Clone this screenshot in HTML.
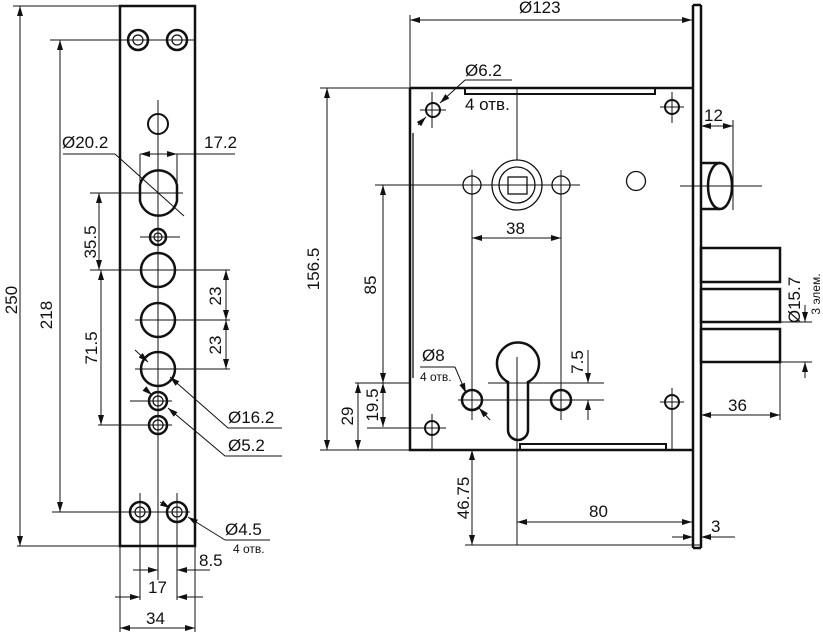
<!DOCTYPE html>
<html><head><meta charset="utf-8"><style>
html,body{margin:0;padding:0;background:#fff}
svg{display:block}
text{font-family:"Liberation Sans",sans-serif;fill:#111}
</style></head><body>
<svg width="823" height="635" viewBox="0 0 823 635" xmlns="http://www.w3.org/2000/svg">
<defs>
<marker id="a" viewBox="0 0 10 6" refX="10" refY="3" markerWidth="10" markerHeight="6" orient="auto-start-reverse" markerUnits="userSpaceOnUse"><path d="M0,0 L10,3 L0,6 z" fill="#111"/></marker>
</defs>
<g stroke="#111" fill="none">
<rect x="120" y="6" width="75" height="540" stroke-width="2.5"/>
<g stroke-width="1">
<line x1="13" y1="6" x2="120" y2="6"/>
<line x1="50" y1="40" x2="195" y2="40"/>
<line x1="158" y1="100" x2="158" y2="580"/>
<line x1="63" y1="154" x2="115" y2="154"/>
<line x1="115" y1="154" x2="184" y2="216"/>
<line x1="90" y1="193" x2="183" y2="193"/>
<line x1="140" y1="237" x2="180" y2="237"/>
<line x1="90" y1="270" x2="230" y2="270"/>
<line x1="135" y1="320" x2="230" y2="320"/>
<line x1="135" y1="369" x2="230" y2="369"/>
<line x1="130" y1="401" x2="172" y2="401"/>
<line x1="98" y1="425" x2="172" y2="425"/>
<line x1="52" y1="512" x2="190" y2="512"/>
<line x1="17" y1="546" x2="120" y2="546"/>
<line x1="140" y1="493" x2="140" y2="600"/>
<line x1="177" y1="493" x2="177" y2="600"/>
<line x1="120" y1="546" x2="120" y2="632"/>
<line x1="195" y1="546" x2="195" y2="632"/>
<line x1="140" y1="154" x2="140" y2="190"/>
<line x1="177" y1="154" x2="177" y2="190"/>
</g>
<g stroke-width="2.5">
<circle cx="138" cy="40" r="10"/><circle cx="177" cy="40" r="10"/>
<circle cx="158" cy="124" r="10" stroke-width="2"/>
<path d="M140,185 A19,19 0 0 1 177,185 L177,201 A19,19 0 0 1 140,201 Z"/>
<circle cx="158" cy="237" r="8"/>
<circle cx="158" cy="270" r="17"/><circle cx="158" cy="320" r="17"/><circle cx="158" cy="369" r="17"/>
<circle cx="158" cy="401" r="9"/><circle cx="158" cy="425" r="9"/>
<circle cx="140" cy="512" r="10"/><circle cx="177" cy="512" r="10"/>
</g>
<g stroke-width="1.2">
<circle cx="138" cy="40" r="5"/><circle cx="177" cy="40" r="5"/>
<circle cx="158" cy="237" r="4"/>
<circle cx="158" cy="401" r="5"/><circle cx="158" cy="425" r="5"/>
<circle cx="140" cy="512" r="5"/><circle cx="177" cy="512" r="5"/>
</g>
<g stroke-width="1">
<line x1="20" y1="6" x2="20" y2="546" marker-start="url(#a)" marker-end="url(#a)"/>
<line x1="60" y1="40" x2="60" y2="512" marker-start="url(#a)" marker-end="url(#a)"/>
<line x1="99" y1="193" x2="99" y2="270" marker-start="url(#a)" marker-end="url(#a)"/>
<line x1="101" y1="270" x2="101" y2="425" marker-start="url(#a)" marker-end="url(#a)"/>
<line x1="226" y1="270" x2="226" y2="320" marker-start="url(#a)" marker-end="url(#a)"/>
<line x1="226" y1="320" x2="226" y2="369" marker-start="url(#a)" marker-end="url(#a)"/>
<line x1="140" y1="154" x2="177" y2="154" marker-start="url(#a)" marker-end="url(#a)"/>
<line x1="177" y1="154" x2="235" y2="154"/>
<line x1="228" y1="428" x2="282" y2="428"/><line x1="228" y1="428" x2="170" y2="377" marker-end="url(#a)"/>
<line x1="135" y1="350" x2="148" y2="362" marker-end="url(#a)"/>
<line x1="225" y1="456" x2="282" y2="456"/><line x1="225" y1="456" x2="168" y2="408" marker-end="url(#a)"/>
<line x1="145" y1="389" x2="152" y2="395" marker-end="url(#a)"/>
<line x1="225" y1="540" x2="270" y2="540"/><line x1="225" y1="540" x2="188" y2="517" marker-end="url(#a)"/>
<line x1="160" y1="502" x2="170" y2="508" marker-end="url(#a)"/>
<line x1="133" y1="570" x2="158" y2="570" marker-end="url(#a)"/>
<line x1="210" y1="570" x2="177" y2="570" marker-end="url(#a)"/>
<line x1="115" y1="597" x2="140" y2="597" marker-end="url(#a)"/>
<line x1="203" y1="597" x2="177" y2="597" marker-end="url(#a)"/>
<line x1="120" y1="628" x2="195" y2="628" marker-start="url(#a)" marker-end="url(#a)"/>
</g>

<g stroke-width="2.5">
<path d="M410,88 L693,88 M410,88 L410,450 L693,450"/>
<line x1="693" y1="5" x2="693" y2="548"/>
<line x1="701" y1="5" x2="701" y2="548"/>
<line x1="693" y1="5" x2="701" y2="5"/><line x1="693" y1="548" x2="701" y2="548"/>
<rect x="465" y="88" width="190" height="6" stroke-width="2"/>
<rect x="520" y="444" width="146" height="6" stroke-width="2"/>
<rect x="701" y="248" width="79" height="34"/>
<rect x="701" y="289" width="79" height="33"/>
<rect x="701" y="329" width="79" height="33"/>
<path d="M701,163 L720,163 M701,209 L720,209"/>
<ellipse cx="720" cy="186" rx="12" ry="23"/>
<path d="M508,382 A21,21 0 1 1 528,382 L528,430 A10,10 0 0 1 508,430 Z"/>
<circle cx="472" cy="400" r="10"/><circle cx="561" cy="400" r="10"/>
<circle cx="433" cy="110" r="7" stroke-width="2"/><circle cx="672" cy="107" r="7" stroke-width="2"/>
<circle cx="432" cy="428" r="7" stroke-width="2"/><circle cx="672" cy="402" r="7" stroke-width="2"/>
</g>
<g stroke-width="1.3">
<line x1="413" y1="133" x2="413" y2="378"/>
<circle cx="517" cy="185" r="25"/><circle cx="517" cy="185" r="18"/>
<rect x="508" y="177" width="19" height="17"/>
<circle cx="472" cy="185" r="9"/><circle cx="561" cy="185" r="9"/>
<circle cx="636" cy="181" r="9.5"/>
</g>
<g stroke-width="1">
<line x1="410" y1="15" x2="410" y2="130"/>
<line x1="410" y1="20" x2="692" y2="20" marker-start="url(#a)" marker-end="url(#a)"/>
<line x1="320" y1="88" x2="410" y2="88"/>
<line x1="320" y1="450" x2="410" y2="450"/>
<line x1="327" y1="88" x2="327" y2="450" marker-start="url(#a)" marker-end="url(#a)"/>
<line x1="375" y1="185" x2="580" y2="185"/>
<line x1="517" y1="88" x2="517" y2="160"/>
<line x1="472" y1="170" x2="472" y2="420"/>
<line x1="561" y1="170" x2="561" y2="420"/>
<line x1="472" y1="238" x2="561" y2="238" marker-start="url(#a)" marker-end="url(#a)"/>
<line x1="383" y1="185" x2="383" y2="383" marker-start="url(#a)" marker-end="url(#a)"/>
<line x1="355" y1="383" x2="410" y2="383"/>
<line x1="358" y1="383" x2="358" y2="450" marker-start="url(#a)" marker-end="url(#a)"/>
<line x1="383" y1="383" x2="383" y2="427" marker-start="url(#a)" marker-end="url(#a)"/>
<line x1="488" y1="383" x2="604" y2="383"/>
<line x1="458" y1="400" x2="604" y2="400"/>
<line x1="517" y1="357" x2="517" y2="545"/>
<line x1="588" y1="350" x2="588" y2="383" marker-end="url(#a)"/>
<line x1="588" y1="420" x2="588" y2="400" marker-end="url(#a)"/>
<line x1="432" y1="92" x2="432" y2="128"/><line x1="420" y1="110" x2="446" y2="110"/>
<line x1="672" y1="92" x2="672" y2="123"/><line x1="660" y1="107" x2="684" y2="107"/>
<line x1="432" y1="414" x2="432" y2="450"/><line x1="367" y1="428" x2="446" y2="428"/>
<line x1="672" y1="388" x2="672" y2="450"/><line x1="660" y1="402" x2="684" y2="402"/>
<line x1="680" y1="186" x2="762" y2="186"/>
<line x1="733" y1="120" x2="733" y2="210"/>
<line x1="701" y1="126" x2="733" y2="126" marker-start="url(#a)" marker-end="url(#a)"/>
<line x1="780" y1="362" x2="780" y2="420"/>
<line x1="701" y1="415" x2="780" y2="415" marker-start="url(#a)" marker-end="url(#a)"/>
<line x1="780" y1="322" x2="812" y2="322"/><line x1="780" y1="362" x2="812" y2="362"/>
<line x1="805" y1="305" x2="805" y2="322" marker-end="url(#a)"/>
<line x1="805" y1="378" x2="805" y2="362" marker-end="url(#a)"/>
<line x1="465" y1="80" x2="512" y2="80"/>
<line x1="465" y1="80" x2="440" y2="103" marker-end="url(#a)"/>
<line x1="418" y1="125" x2="426" y2="117" marker-end="url(#a)"/>
<line x1="420" y1="367" x2="455" y2="367"/>
<line x1="455" y1="367" x2="466" y2="393" marker-end="url(#a)"/>
<line x1="490" y1="420" x2="479" y2="408" marker-end="url(#a)"/>
<line x1="465" y1="545" x2="700" y2="545"/>
<line x1="472" y1="450" x2="472" y2="545" marker-start="url(#a)" marker-end="url(#a)"/>
<line x1="517" y1="522" x2="692" y2="522" marker-start="url(#a)" marker-end="url(#a)"/>
<line x1="672" y1="537" x2="693" y2="537" marker-end="url(#a)"/>
<line x1="735" y1="537" x2="701" y2="537" marker-end="url(#a)"/>
</g>
</g>
<g font-size="17">
<text x="62" y="148">Ø20.2</text>
<text x="204" y="148">17.2</text>
<text transform="translate(96,242) rotate(-90)" text-anchor="middle">35.5</text>
<text transform="translate(17,300) rotate(-90)" text-anchor="middle">250</text>
<text transform="translate(52,315) rotate(-90)" text-anchor="middle">218</text>
<text transform="translate(97,348) rotate(-90)" text-anchor="middle">71.5</text>
<text transform="translate(221,296) rotate(-90)" text-anchor="middle">23</text>
<text transform="translate(221,345) rotate(-90)" text-anchor="middle">23</text>
<text x="228" y="423">Ø16.2</text>
<text x="228" y="451">Ø5.2</text>
<text x="225" y="535">Ø4.5</text>
<text x="199" y="566">8.5</text>
<text x="148" y="593">17</text>
<text x="146" y="624">34</text>
<text x="519" y="13">Ø123</text>
<text x="465" y="76">Ø6.2</text>
<text x="465" y="110">4 отв.</text>
<text x="506" y="234">38</text>
<text x="704" y="121">12</text>
<text transform="translate(376,285) rotate(-90)" text-anchor="middle">85</text>
<text transform="translate(319,269) rotate(-90)" text-anchor="middle">156.5</text>
<text transform="translate(353,416) rotate(-90)" text-anchor="middle">29</text>
<text transform="translate(378,405) rotate(-90)" text-anchor="middle">19.5</text>
<text transform="translate(583,362) rotate(-90)" text-anchor="middle">7.5</text>
<text transform="translate(800,300) rotate(-90)" text-anchor="middle">Ø15.7</text>
<text x="422" y="361">Ø8</text>
<text x="728" y="411">36</text>
<text transform="translate(469,498) rotate(-90)" text-anchor="middle">46.75</text>
<text x="589" y="517">80</text>
<text x="711" y="532">3</text>
</g>
<g font-size="12">
<text x="233" y="553">4 отв.</text>
<text x="420" y="381">4 отв.</text>
<text transform="translate(820,294) rotate(-90)" text-anchor="middle">3 элем.</text>
</g>
</svg>
</body></html>
